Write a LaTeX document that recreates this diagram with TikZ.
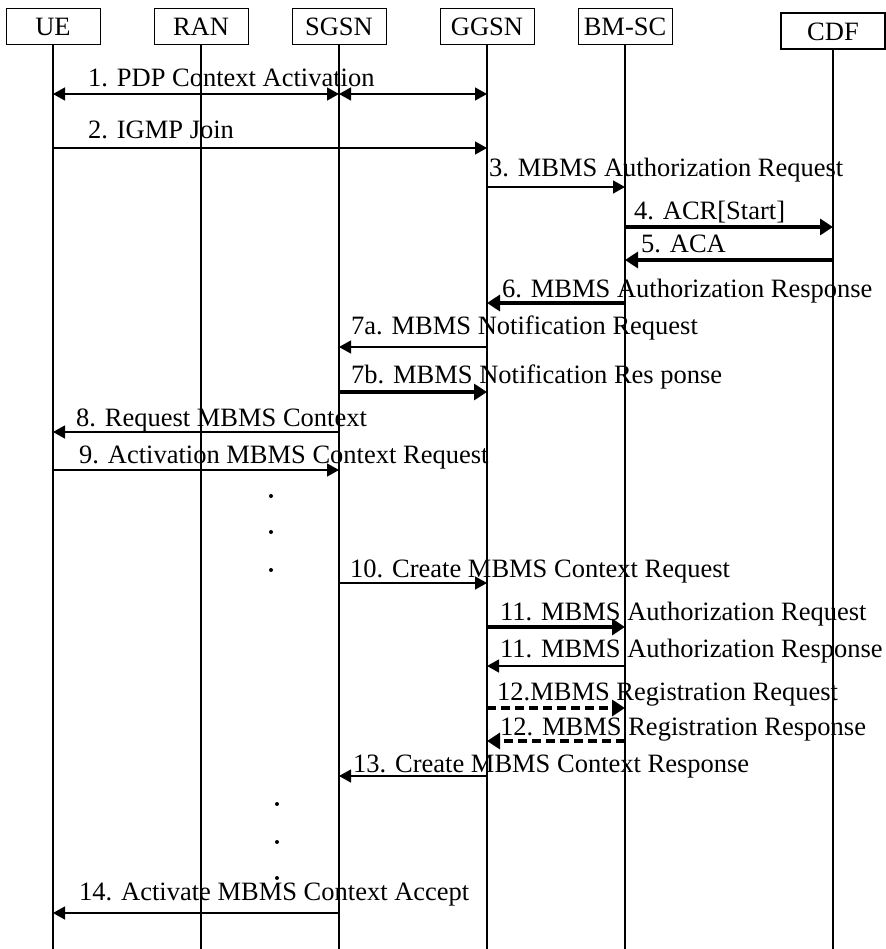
\documentclass[tikz,border=0pt]{standalone}
\usepackage{fontspec}
\setmainfont{Liberation Serif}
\usetikzlibrary{arrows.meta}

\begin{document}
\begin{tikzpicture}[
    x=1pt, y=-1pt,
    font=\fontsize{26.5}{30}\selectfont,
    entity/.style={draw,line width=1pt,minimum width=94pt,minimum height=36pt,inner sep=0pt},
    life/.style={line width=1.3pt},
    msg/.style={line width=1.3pt,-{Triangle[length=12pt,width=13pt]}},
    twomsg/.style={line width=1.3pt,{Triangle[length=12pt,width=13pt]}-{Triangle[length=12pt,width=13pt]}},
    bigmsg/.style={line width=3.5pt,-{Triangle[length=13pt,width=16pt]}},
    dashmsg/.style={bigmsg,dash pattern=on 9pt off 5pt},
    lbl/.style={anchor=base west,inner sep=0pt},
    dot/.style={circle,fill,inner sep=0pt,minimum size=4pt}
]
\useasboundingbox (0,0) rectangle (885,949);

% === Entities ===
\node[entity] (UE) at (53,27) {UE};
\node[entity] (RAN) at (201,27) {RAN};
\node[entity] (SGSN) at (339,27) {SGSN};
\node[entity] (GGSN) at (487,27) {GGSN};
\node[entity] (BMSC) at (625,27) {BM-SC};
\node[entity,line width=2pt,minimum width=104pt] (CDF) at (833,31.5) {CDF};

% === Lifelines ===
\draw[life] (UE.south) -- (UE.south |- 0,949);
\draw[life] (RAN.south) -- (RAN.south |- 0,949);
\draw[life] (SGSN.south) -- (SGSN.south |- 0,949);
\draw[life] (GGSN.south) -- (GGSN.south |- 0,949);
\draw[life] (BMSC.south) -- (BMSC.south |- 0,949);
\draw[life] (CDF.south) -- (CDF.south |- 0,949);

% === Messages ===
\node[lbl] (t1) at (88,87) {1. PDP Context Activation};
\draw[twomsg] (UE |- 0,94) -- (SGSN |- 0,94);
\draw[twomsg] (SGSN |- 0,94) -- (GGSN |- 0,94);

\node[lbl] (t2) at (88,139) {2. IGMP Join};
\draw[msg] (UE |- 0,148) -- (GGSN |- 0,148);

\node[lbl] (t3) at (489,177) {3. MBMS Authorization Request};
\draw[msg] (GGSN |- 0,187) -- (BMSC |- 0,187);

\node[lbl] (t4) at (634,220) {4. ACR[Start]};
\draw[bigmsg] (BMSC |- 0,227) -- (CDF |- 0,227);

\node[lbl] (t5) at (641,253) {5. ACA};
\draw[bigmsg] (CDF |- 0,260) -- (BMSC |- 0,260);

\node[lbl] (t6) at (502,297) {6. MBMS Authorization Response};
\draw[bigmsg] (BMSC |- 0,303) -- (GGSN |- 0,303);

\node[lbl] (t7a) at (351,334) {7a. MBMS Notification Request};
\draw[msg] (GGSN |- 0,347) -- (SGSN |- 0,347);

\node[lbl] (t7b) at (351,383) {7b. MBMS Notification Res ponse};
\draw[bigmsg] (SGSN |- 0,392) -- (GGSN |- 0,392);

\node[lbl] (t8) at (76,426) {8. Request MBMS Context};
\draw[msg] (SGSN |- 0,432) -- (UE |- 0,432);

\node[lbl] (t9) at (79,463) {9. Activation MBMS Context Request};
\draw[msg] (UE |- 0,470) -- (SGSN |- 0,470);

% === Waiting ===
\node[dot] (d1) at (271,496) {};
\node[dot] (d2) at (271,532) {};
\node[dot] (d3) at (271,570) {};

\node[lbl] (t10) at (350,577) {10. Create MBMS Context Request};
\draw[msg] (SGSN |- 0,583) -- (GGSN |- 0,583);

\node[lbl] (t11a) at (500,620) {11. MBMS Authorization Request};
\draw[bigmsg] (GGSN |- 0,627) -- (BMSC |- 0,627);

\node[lbl] (t11b) at (500,657) {11. MBMS Authorization Response};
\draw[msg] (BMSC |- 0,666) -- (GGSN |- 0,666);

\node[lbl] (t12a) at (497,700) {12.MBMS Registration Request};
\draw[dashmsg] (GGSN |- 0,708) -- (BMSC |- 0,708);

\node[lbl] (t12b) at (500,735) {12. MBMS Registration Response};
\draw[dashmsg] (BMSC |- 0,741) -- (GGSN |- 0,741);

\node[lbl] (t13) at (353,772) {13. Create MBMS Context Response};
\draw[msg] (GGSN |- 0,776) -- (SGSN |- 0,776);

% === Waiting ===
\node[dot] (d4) at (277,804) {};
\node[dot] (d5) at (277,842) {};
\node[dot] (d6) at (277,878) {};

\node[lbl] (t14) at (79,900) {14. Activate MBMS Context Accept};
\draw[msg] (SGSN |- 0,913) -- (UE |- 0,913);

\end{tikzpicture}
\end{document}
